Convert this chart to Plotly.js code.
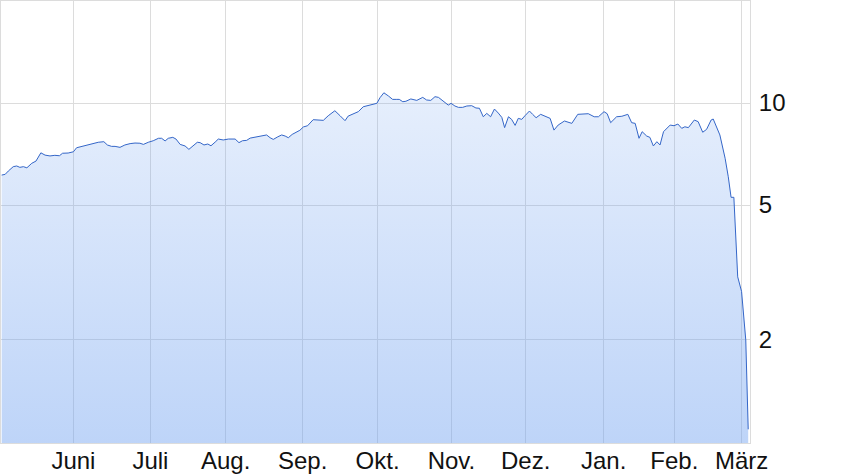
<!DOCTYPE html>
<html>
<head>
<meta charset="utf-8">
<script src="https://cdn.plot.ly/plotly-3.0.1.min.js"></script>
<style>
  html, body { margin: 0; padding: 0; background: #fff; }
  #chart { width: 852px; height: 475px; }
</style>
</head>
<body>
<div id="chart"></div>
<script>
// Handelstage seit Beginn (Position auf der Zeitachse)
var tage = [
  -0.1, 0.9, 1.8, 3.2, 4.2, 5.1, 6.1, 7.1, 8.5, 9.7,
  11.1, 12.3, 13.7, 15.1, 16.4, 17.3, 18.9, 20.4, 21.3, 22.3,
  23.7, 25.1, 26.6, 27.5, 29.1, 30.1, 31.3, 32.3, 33.7, 35.1,
  36.6, 38.0, 39.4, 40.4, 41.8, 43.2, 44.7, 45.6, 46.6, 47.5,
  48.8, 49.7, 50.9, 52.3,
  53.4, 54.7, 55.8, 56.6, 57.7, 58.8, 59.7, 60.9, 61.8, 63.2,
  64.7, 66.6, 67.7, 68.7, 69.9, 70.9, 72.3, 73.7, 75.6, 76.6,
  77.5, 78.8, 79.9, 80.9, 81.8, 82.9, 84.0, 85.1, 86.1, 87.3,
  88.9, 90.4, 91.8, 93.2, 95.1, 96.6, 98.0, 98.9, 100.4, 101.8,
  103.2, 104.7, 106.1,
  107.1, 108.0, 109.1, 110.4, 111.6, 112.8, 113.5, 114.5, 115.4, 116.8,
  117.5, 118.5, 120.2, 121.3, 122.5, 123.7, 124.7, 125.9, 127.5, 128.3,
  129.4, 130.4, 131.6, 132.8, 134.2, 135.4, 136.4, 137.5, 138.5, 139.6,
  140.7, 141.8, 142.8, 143.6, 144.7, 145.6, 146.6, 147.5, 148.5, 149.4,
  150.7, 151.6, 152.6, 153.9, 155.1, 156.6, 157.7, 158.9,
  160.7, 162.8, 164.5, 166.1, 167.5, 169.2, 170.4, 172.0, 172.9, 173.9,
  175.6, 177.1, 178.8, 179.9, 180.9, 182.0, 182.9, 184.2, 185.1, 186.1,
  187.1, 188.0, 189.0, 190.9, 192.0, 193.1, 194.2, 195.1, 196.1, 197.8,
  198.9, 200.2, 201.3, 202.6, 203.2, 205.1, 206.1, 206.6, 207.5, 208.3,
  209.1, 209.6, 210.2, 211.3, 212.0, 212.5, 213.2
];

var kurs = [
  6.13, 6.16, 6.30, 6.49, 6.52, 6.46, 6.49, 6.44, 6.64, 6.74,
  7.13, 7.02, 6.98, 7.01, 6.99, 7.11, 7.12, 7.18, 7.38, 7.42,
  7.50, 7.57, 7.61, 7.66, 7.69, 7.52, 7.45, 7.45, 7.40, 7.52,
  7.59, 7.62, 7.61, 7.55, 7.66, 7.74, 7.87, 7.87, 7.73, 7.87,
  7.92, 7.83, 7.55, 7.47,
  7.30, 7.47, 7.66, 7.64, 7.52, 7.57, 7.48, 7.67, 7.83, 7.78,
  7.83, 7.83, 7.64, 7.74, 7.76, 7.88, 7.94, 7.99, 8.05, 7.90,
  7.81, 7.95, 8.05, 7.99, 7.90, 8.08, 8.21, 8.31, 8.50, 8.57,
  8.93, 8.91, 8.89, 9.17, 9.49, 9.17, 8.87, 9.15, 9.32, 9.43,
  9.75, 9.82, 9.93,
  9.98, 10.37, 10.72, 10.49, 10.25, 10.25, 10.25, 10.09, 10.12, 10.28,
  10.25, 10.18, 10.39, 10.21, 10.18, 10.44, 10.39, 10.16, 9.86, 9.98,
  9.80, 9.71, 9.71, 9.80, 9.82, 9.67, 9.65, 9.11, 9.32, 9.11,
  9.60, 9.34, 9.07, 8.46, 9.11, 8.95, 8.59, 9.01, 8.95, 9.17,
  9.47, 9.26, 9.05, 9.26, 9.15, 9.01, 8.32, 8.61,
  8.85, 8.71, 9.26, 9.26, 9.30, 9.11, 9.11, 9.43, 9.30, 8.75,
  9.11, 9.14, 9.26, 8.75, 8.71, 7.87, 8.23, 7.99, 7.92, 7.47,
  7.69, 7.52, 8.23, 8.61, 8.57, 8.67, 8.42, 8.51, 8.46, 8.91,
  8.81, 8.20, 8.36, 8.91, 8.97, 8.05, 7.27, 6.87, 6.06, 5.27,
  5.27, 4.13, 3.07, 2.78, 2.34, 2.00, 1.09
];

// Monatsanfaenge auf der Handelstag-Achse
var monatPos = [20.4, 42.4, 63.9, 85.9, 107.3, 128.4, 149.6, 171.9, 192.1, 211.3];
var monatText = ["Juni", "Juli", "Aug.", "Sep.", "Okt.", "Nov.", "Dez.", "Jan.", "Feb.", "März"];

var yTicks = [2, 5, 10];

var trace = {
    x: tage,
    y: kurs,
    type: 'scatter',
    mode: 'lines',
    line: { color: '#3466c8', width: 1 },
    fill: 'tozeroy',
    fillgradient: {
        type: 'vertical',
        start: 1,
        stop: 20,
        colorscale: [[0, 'rgba(110,160,240,0.45)'], [1, 'rgba(110,160,240,0.10)']]
    },
    hoverinfo: 'skip'
};

var layout = {
    width: 852,
    height: 475,
    margin: { l: 1, r: 102, t: 1, b: 32 },
    paper_bgcolor: '#fff',
    plot_bgcolor: '#fff',
    showlegend: false,
    font: { family: 'Liberation Sans, Arial, sans-serif', size: 24, color: '#111' },
    xaxis: {
        range: [-0.29, 213.71],
        tickvals: monatPos,
        ticktext: monatText,
        ticks: '',
        ticklabelstandoff: -4,
        showgrid: true,
        gridcolor: '#dcdcdc',
        gridwidth: 1,
        zeroline: false,
        showline: true,
        linecolor: '#dcdcdc',
        linewidth: 1,
        mirror: true,
        tickfont: { size: 24, color: '#111' }
    },
    yaxis: {
        type: 'log',
        side: 'right',
        range: [-0.003, 1.301],
        tickvals: yTicks,
        ticktext: yTicks.map(String),
        ticks: '',
        showgrid: true,
        gridcolor: '#dcdcdc',
        gridwidth: 1,
        zeroline: false,
        showline: true,
        linecolor: '#dcdcdc',
        linewidth: 1,
        mirror: true,
        ticklabelstandoff: 3,
        tickfont: { size: 24, color: '#111' }
    }
};

Plotly.newPlot('chart', [trace], layout, { staticPlot: true, displayModeBar: false });
</script>
</body>
</html>
